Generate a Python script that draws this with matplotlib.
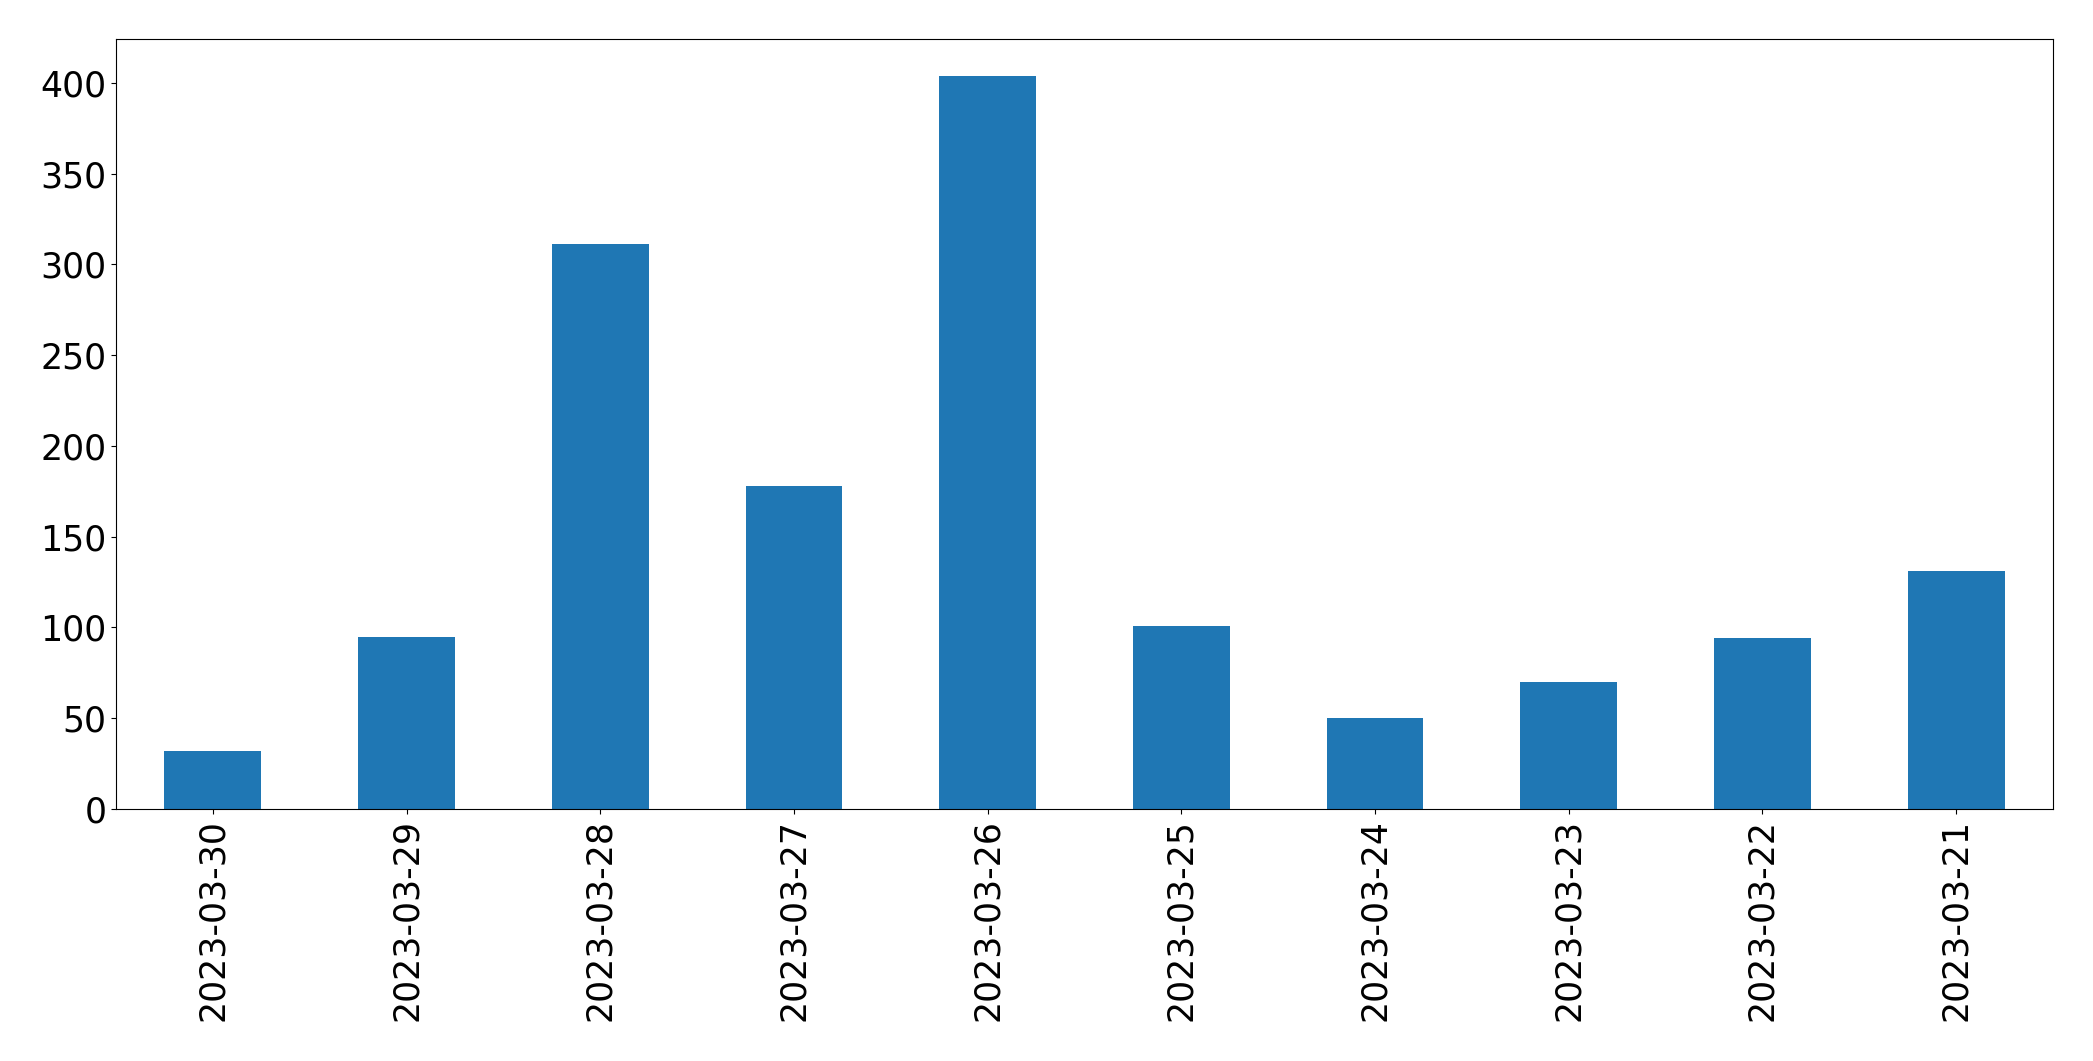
import matplotlib
matplotlib.use('Agg')
import matplotlib.pyplot as plt
import pandas as pd

dates = ['2023-03-30', '2023-03-29', '2023-03-28', '2023-03-27', '2023-03-26',
         '2023-03-25', '2023-03-24', '2023-03-23', '2023-03-22', '2023-03-21']
counts = [32, 95, 311, 178, 404, 101, 50, 70, 94, 131]

s = pd.Series(counts, index=dates)

fig, ax = plt.subplots(figsize=(20.93, 10.61), dpi=100)
s.plot(kind='bar', ax=ax, color='#1f77b4', fontsize=25)
plt.subplots_adjust(left=116/2093, right=2053/2093, top=1-39/1061, bottom=1-809/1061)

plt.savefig('out.png', dpi=100)
plt.close()
